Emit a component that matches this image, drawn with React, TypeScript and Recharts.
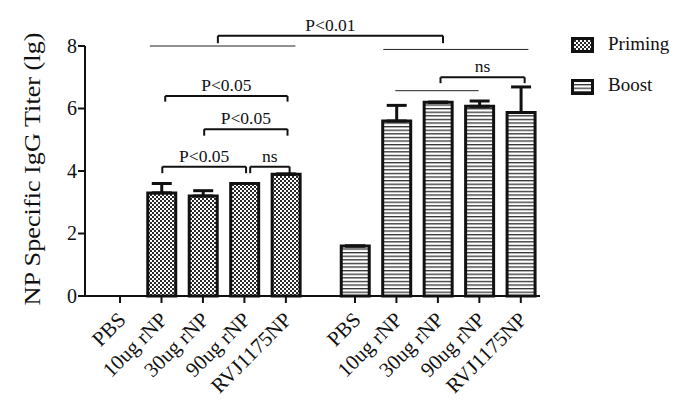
import { Bar, BarChart, ErrorBar, Legend, ReferenceLine, XAxis, YAxis } from "recharts";

const categories = ["PBS", "10ug rNP", "30ug rNP", "90ug rNP", "RVJ1175NP"];
const primingValues = [0, 3.3, 3.2, 3.6, 3.9];
const primingErrors = [0, 0.3, 0.17, 0, 0];
const boostValues = [1.6, 5.6, 6.2, 6.07, 5.87];
const boostErrors = [0, 0.5, 0, 0.17, 0.82];
const yTicks = [0, 2, 4, 6, 8];

// significance brackets (x in bar slots, y in titer units)
const brackets = [
  { x1: 2.36, x2: 7.79, y: 8.33, drop: 8.09, label: "P<0.01" },
  { x1: 1.09, x2: 4.04, y: 6.4, drop: 6.22, label: "P<0.05" },
  { x1: 2.03, x2: 4.04, y: 5.34, drop: 5.13, label: "P<0.05" },
  { x1: 1.02, x2: 3.04, y: 4.14, drop: 3.93, label: "P<0.05" },
  { x1: 3.14, x2: 4.09, y: 4.14, drop: 3.93, label: "ns" },
  { x1: 7.73, x2: 9.76, y: 7.0, drop: 6.81, label: "ns" },
];
// plain group lines under the bracket ends
const groupLines = [
  { x1: 0.72, x2: 4.23, y: 8.0 },
  { x1: 6.35, x2: 9.85, y: 7.89 },
  { x1: 6.64, x2: 8.65, y: 6.57 },
];

const GROUP_START = 5.667; // boost group starts after a gap
const FONT = '"Liberation Serif", "Times New Roman", serif';

const rows = [
  ...categories.map((c, i) => ({
    pos: i,
    name: c,
    priming: primingValues[i],
    primErr: [0, primingErrors[i]],
    boost: null,
    boostErr: null,
  })),
  ...categories.map((c, i) => ({
    pos: GROUP_START + i,
    name: c,
    priming: null,
    primErr: null,
    boost: boostValues[i],
    boostErr: [0, boostErrors[i]],
  })),
];
const tickPositions = rows.map((r) => r.pos);
const tickNames = rows.map((r) => r.name);

const series = [
  { key: "priming", name: "Priming", fill: "url(#checks)" },
  { key: "boost", name: "Boost", fill: "url(#stripes)" },
];

function CategoryTick(props: any) {
  const { x, y } = props;
  const idx = props.index ?? props.payload?.index ?? 0;
  const ax = x + 7;
  const ay = y + 16;
  return (
    <text
      x={ax}
      y={ay}
      transform={`rotate(-45 ${ax} ${ay})`}
      textAnchor="end"
      fontSize={21}
      fontFamily={FONT}
      fill="#111"
    >
      {tickNames[idx]}
    </text>
  );
}

function ValueTick(props: any) {
  const { x, y, payload } = props;
  return (
    <text x={x} y={y + 6.5} textAnchor="end" fontSize={20} fontFamily={FONT} fill="#111">
      {payload.value}
    </text>
  );
}

function BracketLabel(props: any) {
  const vb = props.viewBox || {};
  const cx = (vb.x ?? 0) + (vb.width ?? 0) / 2;
  return (
    <text x={cx} y={(vb.y ?? 0) - 5} textAnchor="middle" fontSize={17.5} fontFamily={FONT} fill="#111">
      {props.text}
    </text>
  );
}

function LegendBox() {
  return (
    <svg width={120} height={80}>
      {series.map((s, i) => (
        <g key={s.key}>
          <rect x={12.5} y={8.5 + i * 42} width={20} height={13} fill={s.fill} stroke="#111" strokeWidth={3} />
          <text x={48} y={20 + i * 41} fontSize={19} fontFamily={FONT} fill="#111">
            {s.name}
          </text>
        </g>
      ))}
    </svg>
  );
}

export default function App() {
  return (
    <div style={{ position: "absolute", left: 0, top: 0, width: 685, height: 408, fontFamily: FONT }}>
      <svg width={0} height={0} style={{ position: "absolute" }}>
        <defs>
          <pattern id="checks" width={4} height={4} patternUnits="userSpaceOnUse">
            <rect width={4} height={4} fill="#fff" />
            <rect width={2} height={2} fill="#2a2a2a" />
            <rect x={2} y={2} width={2} height={2} fill="#2a2a2a" />
          </pattern>
          <pattern id="stripes" width={4} height={3.6} patternUnits="userSpaceOnUse">
            <rect width={4} height={3.6} fill="#fff" />
            <rect width={4} height={1.3} fill="#333" />
          </pattern>
        </defs>
      </svg>
      <BarChart
        width={685}
        height={408}
        data={rows}
        barSize={28}
        margin={{ top: 46, right: 145, left: 0, bottom: 12 }}
      >
        <XAxis
          dataKey="pos"
          type="number"
          domain={[-0.845, 10.13]}
          allowDataOverflow
          ticks={tickPositions}
          interval={0}
          height={100}
          tick={<CategoryTick />}
          tickSize={7}
          axisLine={{ stroke: "#111", strokeWidth: 2 }}
          tickLine={{ stroke: "#111", strokeWidth: 2 }}
        />
        <YAxis
          domain={[0, 8]}
          ticks={yTicks}
          width={85}
          tickSize={7}
          tickMargin={1}
          tick={<ValueTick />}
          axisLine={{ stroke: "#111", strokeWidth: 2 }}
          tickLine={{ stroke: "#111", strokeWidth: 2 }}
          label={{
            content: () => (
              <text
                x={40}
                y={169}
                transform="rotate(-90 40 169)"
                textAnchor="middle"
                textLength={273}
                lengthAdjust="spacingAndGlyphs"
                fontSize={23}
                fontFamily={FONT}
                fill="#111"
              >
                NP Specific IgG Titer (lg)
              </text>
            ),
          }}
        />
        <Legend
          layout="horizontal"
          verticalAlign="middle"
          align="center"
          wrapperStyle={{ position: "absolute", left: 560, top: 30, width: 120, height: 80 }}
          content={() => <LegendBox />}
        />
        <Bar
          dataKey="priming"
          name="Priming"
          stackId="g"
          fill="url(#checks)"
          stroke="#111"
          strokeWidth={3}
          isAnimationActive={false}
        >
          <ErrorBar dataKey="primErr" direction="y" width={10} stroke="#111" strokeWidth={3} />
        </Bar>
        <Bar
          dataKey="boost"
          name="Boost"
          stackId="g"
          fill="url(#stripes)"
          stroke="#111"
          strokeWidth={3}
          isAnimationActive={false}
        >
          <ErrorBar dataKey="boostErr" direction="y" width={10} stroke="#111" strokeWidth={3} />
        </Bar>
        {groupLines.map((l, i) => (
          <ReferenceLine
            key={`g${i}`}
            segment={[{ x: l.x1, y: l.y }, { x: l.x2, y: l.y }]}
            stroke="#222"
            strokeWidth={1}
            ifOverflow="visible"
          />
        ))}
        {brackets.map((b, i) => [
          <ReferenceLine
            key={`h${i}`}
            segment={[{ x: b.x1, y: b.y }, { x: b.x2, y: b.y }]}
            stroke="#111"
            strokeWidth={2}
            ifOverflow="visible"
            label={{ content: (p: any) => <BracketLabel {...p} text={b.label} /> }}
          />,
          <ReferenceLine
            key={`l${i}`}
            segment={[{ x: b.x1, y: b.y }, { x: b.x1, y: b.drop }]}
            stroke="#111"
            strokeWidth={2}
            ifOverflow="visible"
          />,
          <ReferenceLine
            key={`r${i}`}
            segment={[{ x: b.x2, y: b.y }, { x: b.x2, y: b.drop }]}
            stroke="#111"
            strokeWidth={2}
            ifOverflow="visible"
          />,
        ])}
      </BarChart>
    </div>
  );
}
